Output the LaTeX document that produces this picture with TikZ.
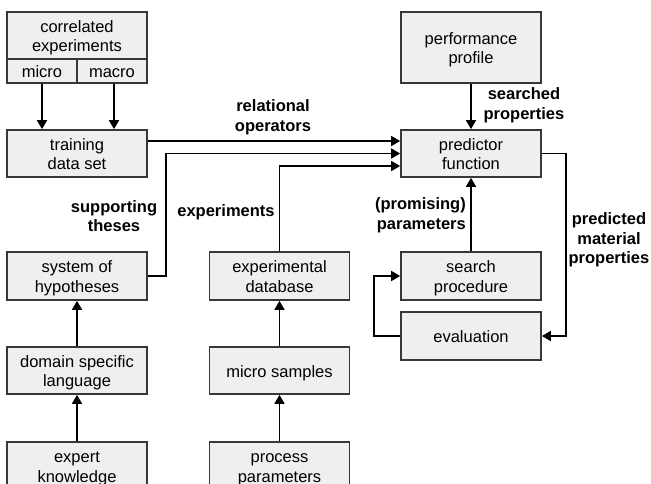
\documentclass[tikz,border=0pt]{standalone}
\usepackage{fontspec}
\setmainfont{Liberation Sans}
\usetikzlibrary{arrows.meta,calc}
\definecolor{boxfill}{HTML}{EFEFEF}
\definecolor{boxline}{HTML}{383838}
\newcommand\mytop{\rule{0pt}{17pt}}
\newcommand\mybot{\rule[-3.9pt]{0pt}{0pt}}
\tikzset{
  box/.style={draw=boxline,fill=boxfill,line width=1.7pt,minimum width=140pt,minimum height=47pt,
    inner sep=0pt,align=center,font=\fontsize{16.5}{19.5}\selectfont},
  lbl/.style={align=center,inner sep=0pt,font=\fontsize{16.5}{19.5}\selectfont\bfseries},
  arr/.style={draw=black,line width=1.7pt,-{Triangle[length=9pt,width=10pt]}},
  ln/.style={draw=black,line width=1.7pt}
}
\begin{document}
\begin{tikzpicture}[x=1pt,y=-1pt]
\useasboundingbox (0,0) rectangle (651,484);
\clip (0,0) rectangle (651,484);
% left column
\node[box] (ce) at (77,35.5) {\mytop correlated\\experiments\mybot};
\node[box,minimum width=70pt,minimum height=24pt] (micro) at (42,71) {\mytop micro\mybot};
\node[box,minimum width=70pt,minimum height=24pt] (macro) at (112,71) {\mytop macro\mybot};
\node[box] (tds) at (77,153.5) {\mytop training\\data set\mybot};
\node[box,minimum height=48pt] (soh) at (77,276) {\mytop system of\\hypotheses\mybot};
\node[box] (dsl) at (77,370.5) {\mytop domain specific\\language\mybot};
\node[box,minimum height=48pt] (ek) at (77,466) {\mytop expert\\knowledge\mybot};
% middle column
\node[box,minimum height=48pt] (edb) at (279.5,276) {\mytop experimental\\database\mybot};
\node[box] (ms) at (279.5,370.5) {\mytop micro samples\mybot};
\node[box,minimum height=48pt] (pp) at (279.5,466) {\mytop process\\parameters\mybot};
% right column
\node[box,minimum height=71pt] (perf) at (471,47.5) {\mytop performance\\profile\mybot};
\node[box] (pred) at (471,153.5) {\mytop predictor\\function\mybot};
\node[box,minimum height=48pt] (sp) at (471,276) {\mytop search\\procedure\mybot};
\node[box,minimum height=48pt] (ev) at (471,336) {\mytop evaluation\mybot};
% connectors
\draw[arr] (micro.south) -- (micro.south |- tds.north);
\draw[arr] ([xshift=2pt]macro.south) -- ([xshift=2pt]macro.south |- tds.north);
\draw[arr] ([yshift=12.5pt]tds.east) -- ([yshift=12.5pt]tds.east -| pred.west);
\draw[arr] (soh.east) -- ++(18,0) |- (pred.west);
\draw[arr] (edb.north) |- ([yshift=-12.5pt]pred.west);
\draw[arr] (perf.south) -- (pred.north);
\draw[arr] (sp.north) -- (pred.south);
\draw[arr] (pred.east) -- ++(24,0) |- (ev.east);
\draw[arr] (ev.west) -- ++(-26,0) |- (sp.west);
\draw[arr] (dsl.north) -- (soh.south);
\draw[arr] (ek.north) -- (dsl.south);
\draw[arr] (ms.north) -- (edb.south);
\draw[arr] (pp.north) -- (ms.south);
% labels
\node[lbl] (l1) at (273,117) {relational\\operators};
\node[lbl] (l2) at (524,105) {searched\\properties};
\node[lbl] (l3) at (114,216) {supporting\\theses};
\node[lbl] (l4) at (226,212) {experiments};
\node[lbl,anchor=east,align=right] (l5) at (466,215) {(promising)\\parameters};
\node[lbl] (l6) at (609,240) {predicted\\material\\properties};
\end{tikzpicture}
\end{document}
